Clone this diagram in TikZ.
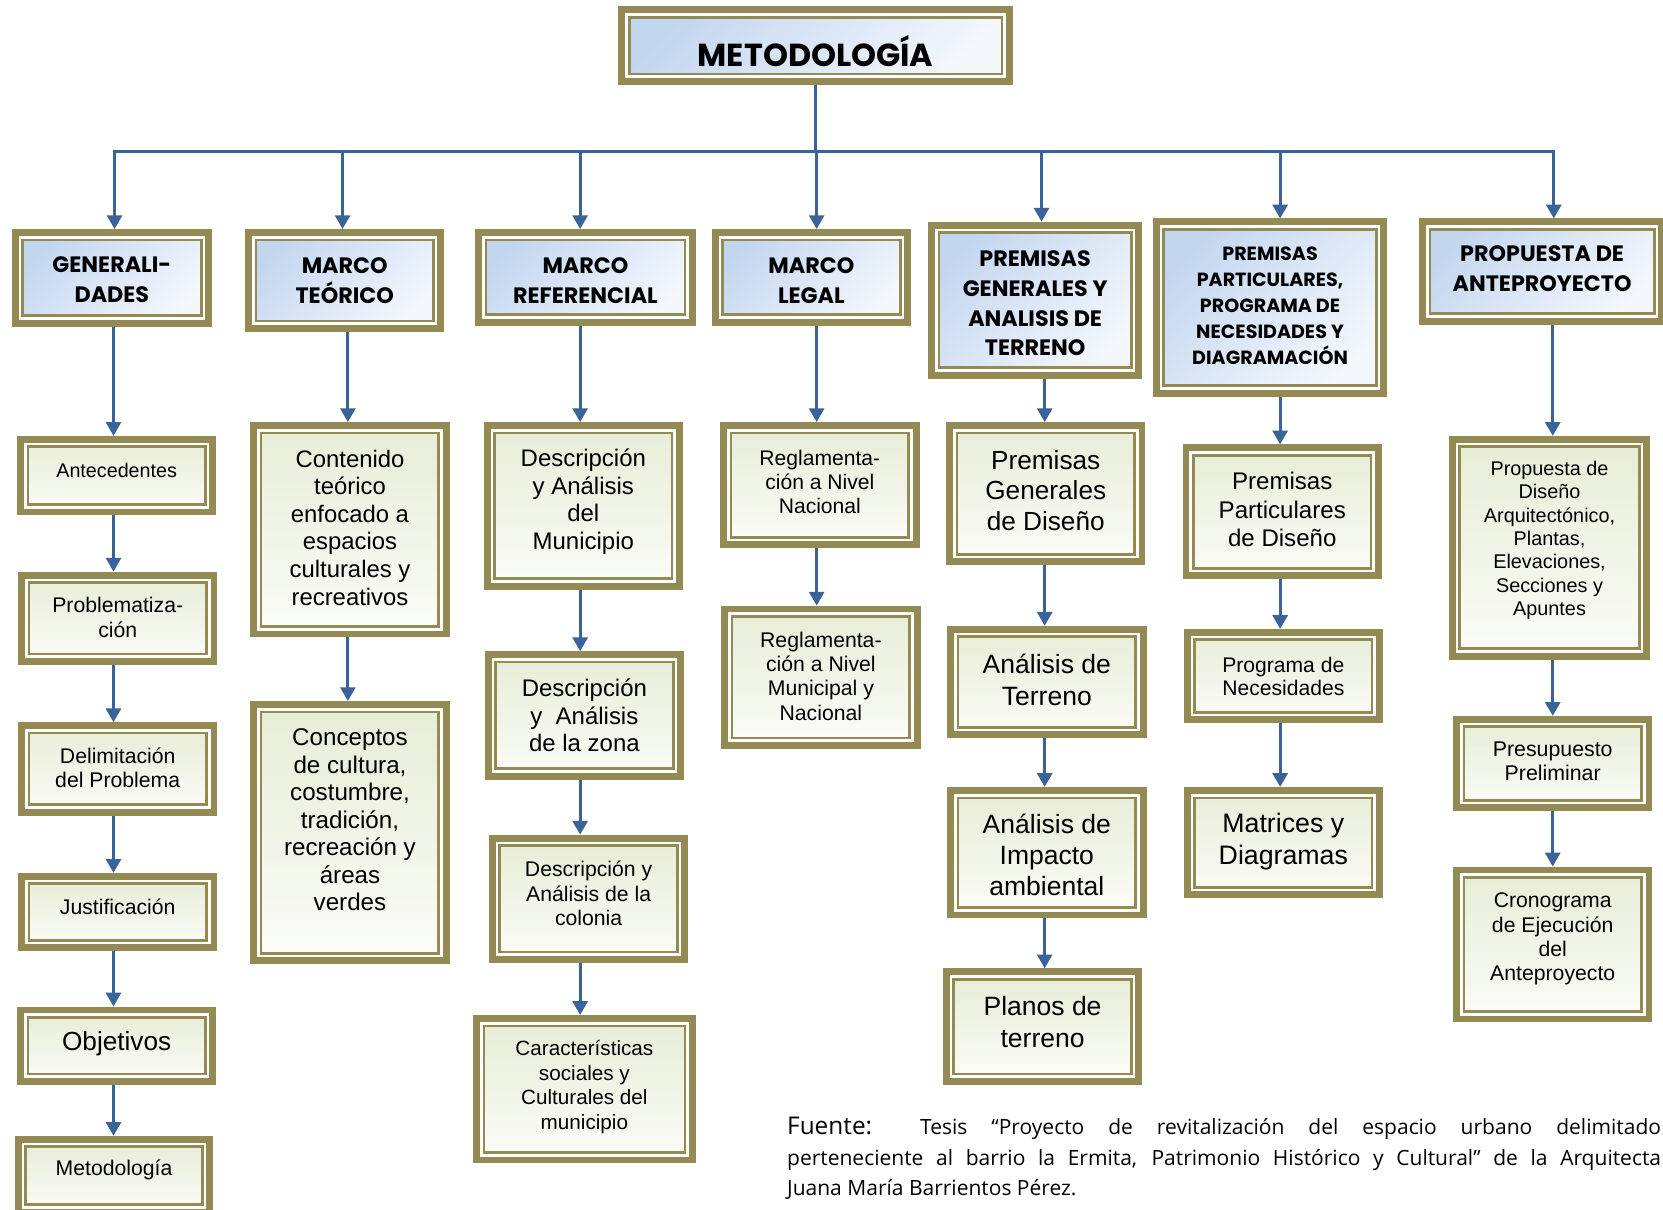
\documentclass[tikz,border=0pt]{standalone}
\usepackage{fontspec}
\setmainfont{Liberation Sans}
\newfontfamily\hdr{Poppins}
\newfontfamily\srcf{Open Sans}
\usetikzlibrary{arrows.meta}
\definecolor{olv}{HTML}{948A54}
\definecolor{hba}{HTML}{C3D6EF}
\definecolor{hbb}{HTML}{F4F8FD}
\definecolor{bga}{HTML}{E6EDD6}
\definecolor{bgb}{HTML}{FBFCF8}
\definecolor{arrc}{HTML}{3A6399}
\tikzset{
  frame/.style={draw=olv, line width=6.5pt, outer sep=3.25pt, inner sep=0pt},
  hbox/.style={frame, top color=hba, bottom color=hbb, shading angle=45},
  bbox/.style={frame, top color=bga, bottom color=bgb},
  txt/.style={align=center, inner sep=0pt},
  hf/.style={font=\hdr\bfseries\fontsize{21}{28}\selectfont},
  ln/.style={draw=arrc, line width=3pt},
  arr/.style={ln, -{Triangle[width=14pt,length=13pt]}},
}
\newcommand\bx[8]{%
  \node[#6, minimum width={(#4-#2-6.5)*1pt}, minimum height={(#5-#3-6.5)*1pt}] (#1) at ({(#2+#4)/2},{(#3+#5)/2}) {};
  \draw[white, line width=2.5pt] ([shift={(7.75pt,-7.75pt)}]#1.north west) rectangle ([shift={(-7.75pt,7.75pt)}]#1.south east);
  \draw[olv, line width=2.5pt] ([shift={(10.25pt,-10.25pt)}]#1.north west) rectangle ([shift={(-10.25pt,10.25pt)}]#1.south east);
  \node[txt, #7] (#1t) at (#1.center) {#8};
}
\begin{document}
\begin{tikzpicture}[x=1pt,y=-1pt]
\useasboundingbox (0,0) rectangle (1568,1140);
\clip (0,0) rectangle (1568,1140);
\fill[white] (0,0) rectangle (1568,1140);
% title and headers
\bx{title}{583}{6}{955}{80}{hbox}{font=\hdr\bfseries\fontsize{30}{34}\selectfont, yshift=-5pt}{METODOLOGÍA}
\bx{h1}{11}{216}{200}{308}{hbox}{hf, yshift=-2pt}{GENERALI-\\DADES}
\bx{h2}{231}{216}{419}{313}{hbox}{hf}{MARCO\\TEÓRICO}
\bx{h3}{448}{216}{656}{307}{hbox}{hf, yshift=-3pt}{MARCO\\REFERENCIAL}
\bx{h4}{671}{216}{859}{307}{hbox}{hf, yshift=-3pt}{MARCO\\LEGAL}
\bx{h5}{875}{209}{1077}{357}{hbox}{hf, yshift=-3pt}{PREMISAS\\GENERALES Y\\ANALISIS DE\\TERRENO}
\bx{h6}{1087}{206}{1308}{374}{hbox}{font=\hdr\bfseries\fontsize{18}{24.5}\selectfont, yshift=2pt}{PREMISAS\\PARTICULARES,\\PROGRAMA DE\\NECESIDADES Y\\DIAGRAMACIÓN}
\bx{h7}{1338}{206}{1570}{306}{hbox}{hf, yshift=3pt}{PROPUESTA DE\\ANTEPROYECTO}
% column 1
\bx{a1}{16}{411}{204}{486}{bbox}{font=\fontsize{18.6}{22}\selectfont, yshift=5pt}{Antecedentes}
\bx{a2}{17}{539}{205}{627}{bbox}{font=\fontsize{20}{23}\selectfont, yshift=1pt}{Problematiza-\\ción}
\bx{a3}{17}{681}{205}{769}{bbox}{font=\fontsize{20}{23}\selectfont, yshift=1pt}{Delimitación\\del Problema}
\bx{a4}{17}{823}{205}{897}{bbox}{font=\fontsize{20}{23}\selectfont, yshift=5pt}{Justificación}
\bx{a5}{16}{949}{204}{1023}{bbox}{font=\fontsize{24.7}{29}\selectfont, yshift=2pt}{Objetivos}
\bx{a6}{14}{1071}{201}{1146}{bbox}{font=\fontsize{20}{23}\selectfont, yshift=5pt}{Metodología}
% column 2
\bx{b1}{236}{398}{424}{601}{bbox}{font=\fontsize{22.5}{26}\selectfont, yshift=2pt}{Contenido\\teórico\\enfocado a\\espacios\\culturales y\\recreativos}
\bx{b2}{236}{661}{424}{909}{bbox}{font=\fontsize{22.8}{26}\selectfont, yshift=12pt}{Conceptos\\de cultura,\\costumbre,\\tradición,\\recreación y\\áreas\\verdes}
% column 3
\bx{c1}{456}{398}{644}{556}{bbox}{font=\fontsize{22.6}{26}\selectfont, yshift=4pt}{Descripción\\y Análisis\\del\\Municipio}
\bx{c2}{457}{614}{645}{735}{bbox}{font=\fontsize{22.6}{26}\selectfont}{Descripción\\y\ \ Análisis\\de la zona}
\bx{c3}{461}{787}{649}{908}{bbox}{font=\fontsize{20}{23}\selectfont, yshift=5pt}{Descripción y\\Análisis de la\\colonia}
\bx{c4}{446}{957}{656}{1097}{bbox}{font=\fontsize{19.5}{23}\selectfont, yshift=2pt}{Características\\sociales y\\Culturales del\\municipio}
% column 4
\bx{d1}{679}{398}{867}{517}{bbox}{font=\fontsize{19.9}{23}\selectfont, yshift=3pt}{Reglamenta-\\ción a Nivel\\Nacional}
\bx{d2}{680}{571}{868}{706}{bbox}{font=\fontsize{20}{23}\selectfont, yshift=1pt}{Reglamenta-\\ción a Nivel\\Municipal y\\Nacional}
% column 5
\bx{e1}{892}{398}{1080}{533}{bbox}{font=\fontsize{24.7}{29}\selectfont, yshift=3pt}{Premisas\\Generales\\de Diseño}
\bx{e2}{893}{590}{1081}{696}{bbox}{font=\fontsize{25}{30}\selectfont, yshift=2pt}{Análisis de\\Terreno}
\bx{e3}{893}{742}{1081}{866}{bbox}{font=\fontsize{25}{29}\selectfont, yshift=-2pt}{Análisis de\\Impacto\\ambiental}
\bx{e4}{889}{913}{1077}{1023}{bbox}{font=\fontsize{25}{30}\selectfont, yshift=4pt}{Planos de\\terreno}
% column 6
\bx{f1}{1115}{419}{1303}{546}{bbox}{font=\fontsize{22.7}{27}\selectfont, yshift=2pt}{Premisas\\Particulares\\de Diseño}
\bx{f2}{1116}{593}{1304}{682}{bbox}{font=\fontsize{19.9}{22}\selectfont}{Programa de\\Necesidades}
\bx{f3}{1116}{742}{1304}{847}{bbox}{font=\fontsize{25.2}{30}\selectfont, yshift=1pt}{Matrices y\\Diagramas}
% column 7
\bx{g1}{1366}{411}{1556}{622}{bbox}{font=\fontsize{18.7}{22}\selectfont, yshift=7pt}{Propuesta de\\Diseño\\Arquitectónico,\\Plantas,\\Elevaciones,\\Secciones y\\Apuntes}
\bx{g2}{1370}{675}{1558}{765}{bbox}{font=\fontsize{20.1}{23}\selectfont, yshift=2pt}{Presupuesto\\Preliminar}
\bx{g3}{1370}{817}{1558}{964}{bbox}{font=\fontsize{20}{23}\selectfont, yshift=5pt}{Cronograma\\de Ejecución\\del\\Anteproyecto}
% trunk and bus
\coordinate (bus) at (769,143);
\coordinate (t1) at (108,143);
\coordinate (t2) at (323,143);
\coordinate (t3) at (547,143);
\coordinate (t4) at (770,143);
\coordinate (t5) at (982,143);
\coordinate (t6) at (1207,143);
\coordinate (t7) at (1465,143);
\draw[ln] (title.south) -- (bus);
\draw[ln, line cap=rect] (t1) -- (t7);
\foreach \i in {1,...,7} \draw[arr] (t\i) -- (t\i |- h\i.north);
% column connectors
\coordinate (k1) at (107,0);
\coordinate (k2) at (328,0);
\coordinate (k3) at (547,0);
\coordinate (k4) at (770,0);
\coordinate (k5) at (985,0);
\coordinate (k6) at (1207,0);
\coordinate (k7) at (1464,0);
\foreach \p/\q/\k in {h1/a1/k1, a1/a2/k1, a2/a3/k1, a3/a4/k1, a4/a5/k1, a5/a6/k1,
  h2/b1/k2, b1/b2/k2,
  h3/c1/k3, c1/c2/k3, c2/c3/k3, c3/c4/k3,
  h4/d1/k4, d1/d2/k4,
  h5/e1/k5, e1/e2/k5, e2/e3/k5, e3/e4/k5,
  h6/f1/k6, f1/f2/k6, f2/f3/k6,
  h7/g1/k7, g1/g2/k7, g2/g3/k7}
  \draw[arr] (\p.south -| \k) -- (\q.north -| \k);
% source
\node[anchor=north west, text width=824pt, align=justify, inner sep=0pt,
  font=\srcf\fontsize{19.8}{29}\selectfont] (src) at (742,1053)
  {{\fontsize{23}{29}\selectfont Fuente:}\ \ Tesis “Proyecto de revitalización del espacio urbano delimitado\linebreak perteneciente al barrio la Ermita, Patrimonio Histórico y Cultural” de la Arquitecta\linebreak Juana María Barrientos Pérez.};
\end{tikzpicture}
\end{document}
